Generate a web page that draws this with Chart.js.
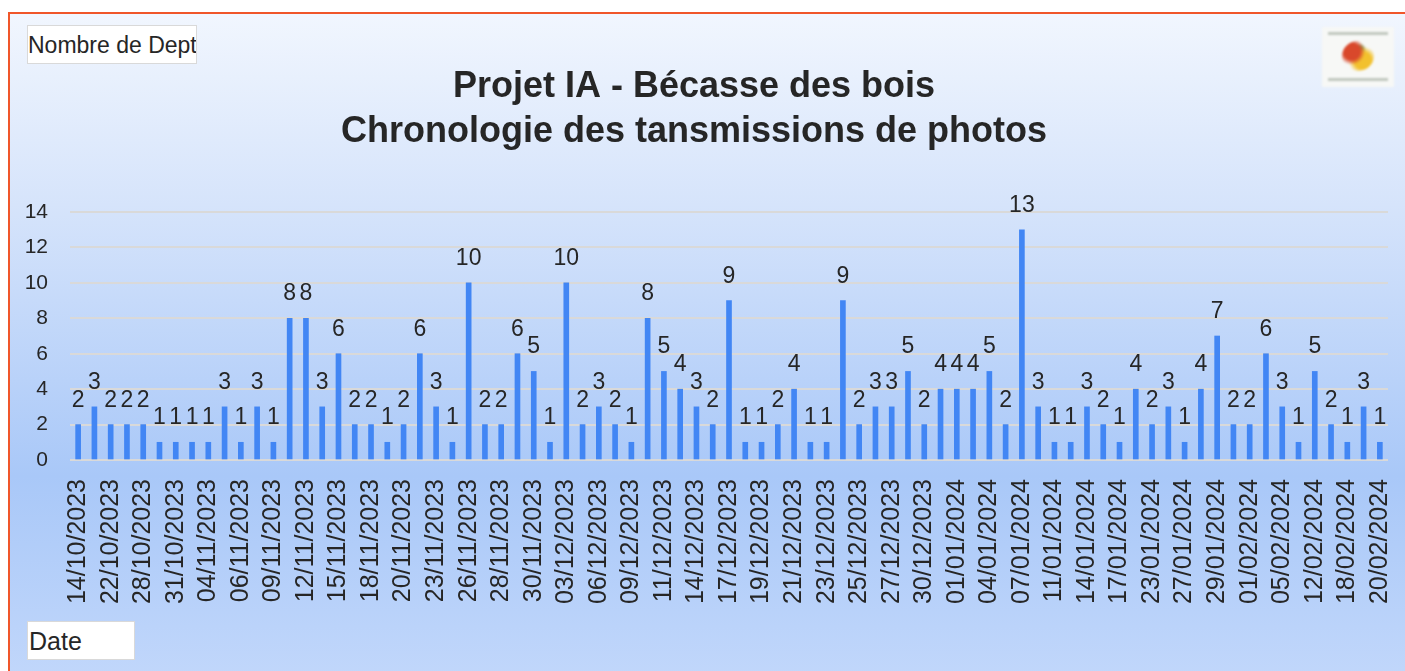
<!DOCTYPE html>
<html lang="fr">
<head>
    <meta charset="UTF-8">
    <title>Projet IA - Bécasse des bois</title>
    <script src="https://cdn.jsdelivr.net/npm/chart.js"></script>
    <style>
        html, body {
            margin: 0;
            padding: 0;
            background: #fff;
            overflow: hidden;
        }
        body {
            width: 1405px;
            height: 671px;
            position: relative;
            font-family: Arial, "Liberation Sans", sans-serif;
        }
        .frame {
            position: absolute;
            left: 8px;
            top: 12px;
            width: 1420px;
            height: 680px;
            border: 2px solid #f0562a;
            background: linear-gradient(to bottom, #f1f6fe 0%, #d6e4fb 28%, #a9c8f8 68%, #c3d8fb 100%);
        }
        #chartBox {
            position: absolute;
            left: 0;
            top: 0;
        }
        .tag {
            position: absolute;
            background: #fff;
            border: 1px solid #d9d9d9;
            color: #262626;
            line-height: 1;
            white-space: nowrap;
            overflow: hidden;
            box-sizing: border-box;
        }
        #yTag {
            left: 27px;
            top: 25px;
            width: 170px;
            height: 39px;
            font-size: 23px;
            padding: 8px 0 0 0;
        }
        #xTag {
            left: 27px;
            top: 621px;
            width: 108px;
            height: 39px;
            font-size: 25px;
            padding: 7px 0 0 1px;
        }
        .logo {
            position: absolute;
            left: 1322px;
            top: 27px;
            width: 72px;
            height: 60px;
            background: #f7f8f6;
            filter: blur(1px);
        }
        .logo .txt {
            position: absolute;
            left: 6px;
            right: 6px;
            height: 3px;
            background: #a9b3a8;
            opacity: 0.7;
        }
        .logo .fruit {
            position: absolute;
            left: 20px;
            top: 14px;
            width: 32px;
            height: 30px;
            border-radius: 50%;
            background: radial-gradient(circle at 30% 35%, #d9482b 0 28%, transparent 45%),
                        radial-gradient(circle at 65% 65%, #f2c12e 0 30%, transparent 50%),
                        radial-gradient(circle at 55% 30%, #6b8a3a 0 12%, transparent 25%);
        }
    </style>
</head>
<body>
    <div class="frame"></div>
    <canvas id="chartBox" width="1405" height="671"></canvas>
    <div class="tag" id="yTag">Nombre de Dept</div>
    <div class="tag" id="xTag">Date</div>
    <div class="logo">
        <div class="txt" style="top:5px"></div>
        <div class="fruit"></div>
        <div class="txt" style="top:51px"></div>
    </div>

    <script>
        // dates de transmission (une étiquette sur deux est affichée)
        const dates = [
            "14/10/2023", "18/10/2023", "22/10/2023", "25/10/2023", "28/10/2023", "30/10/2023",
            "31/10/2023", "02/11/2023", "04/11/2023", "05/11/2023", "06/11/2023", "08/11/2023",
            "09/11/2023", "11/11/2023", "12/11/2023", "13/11/2023", "15/11/2023", "17/11/2023",
            "18/11/2023", "19/11/2023", "20/11/2023", "22/11/2023", "23/11/2023", "25/11/2023",
            "26/11/2023", "27/11/2023", "28/11/2023", "29/11/2023", "30/11/2023", "01/12/2023",
            "03/12/2023", "05/12/2023", "06/12/2023", "08/12/2023", "09/12/2023", "10/12/2023",
            "11/12/2023", "13/12/2023", "14/12/2023", "16/12/2023", "17/12/2023", "18/12/2023",
            "19/12/2023", "20/12/2023", "21/12/2023", "22/12/2023", "23/12/2023", "24/12/2023",
            "25/12/2023", "26/12/2023", "27/12/2023", "29/12/2023", "30/12/2023", "31/12/2023",
            "01/01/2024", "02/01/2024", "04/01/2024", "06/01/2024", "07/01/2024", "09/01/2024",
            "11/01/2024", "12/01/2024", "14/01/2024", "15/01/2024", "17/01/2024", "20/01/2024",
            "23/01/2024", "25/01/2024", "27/01/2024", "28/01/2024", "29/01/2024", "30/01/2024",
            "01/02/2024", "03/02/2024", "05/02/2024", "08/02/2024", "12/02/2024", "15/02/2024",
            "18/02/2024", "19/02/2024", "20/02/2024"
        ];

        // nombre de départements par date
        const counts = [
            2, 3, 2, 2, 2, 1, 1, 1, 1, 3, 1, 3, 1, 8, 8, 3, 6, 2, 2, 1,
            2, 6, 3, 1, 10, 2, 2, 6, 5, 1, 10, 2, 3, 2, 1, 8, 5, 4, 3, 2,
            9, 1, 1, 2, 4, 1, 1, 9, 2, 3, 3, 5, 2, 4, 4, 4, 5, 2, 13, 3,
            1, 1, 3, 2, 1, 4, 2, 3, 1, 4, 7, 2, 2, 6, 3, 1, 5, 2, 1, 3, 1
        ];

        const titleLines = ["Projet IA - Bécasse des bois", "Chronologie des tansmissions de photos"];
        const yTicks = [0, 2, 4, 6, 8, 10, 12, 14];

        const textColor = "#262626";

        // écrit la valeur au-dessus de chaque barre
        const valueLabels = {
            id: "valueLabels",
            afterDatasetsDraw(chart) {
                const ctx = chart.ctx;
                const meta = chart.getDatasetMeta(0);
                ctx.save();
                ctx.font = "23px Arial, 'Liberation Sans', sans-serif";
                ctx.fillStyle = textColor;
                ctx.textAlign = "center";
                ctx.textBaseline = "alphabetic";
                meta.data.forEach((bar, i) => {
                    ctx.fillText(String(counts[i]), bar.x, bar.y - 18);
                });
                ctx.restore();
            }
        };

        const ctx = document.getElementById("chartBox").getContext("2d");
        new Chart(ctx, {
            type: "bar",
            data: {
                labels: dates,
                datasets: [{
                    label: "Nombre de Dept",
                    data: counts,
                    backgroundColor: "#4286f4",
                    barThickness: 5
                }]
            },
            options: {
                responsive: false,
                animation: false,
                layout: {
                    padding: { top: 0, right: 17, bottom: 0, left: 0 }
                },
                plugins: {
                    legend: { display: false },
                    tooltip: { enabled: false },
                    title: {
                        display: true,
                        text: titleLines,
                        color: textColor,
                        font: { family: "Arial, 'Liberation Sans', sans-serif", size: 36, weight: "bold", lineHeight: 1.25 },
                        padding: { top: 65, bottom: 57 }
                    }
                },
                scales: {
                    x: {
                        grid: { display: false },
                        border: { display: false },
                        ticks: {
                            autoSkip: false,
                            maxRotation: 90,
                            minRotation: 90,
                            padding: 11,
                            color: textColor,
                            font: { family: "Arial, 'Liberation Sans', sans-serif", size: 25 },
                            callback: function (val, i) {
                                return i % 2 === 0 ? this.getLabelForValue(val) : "";
                            }
                        },
                        afterFit: (scale) => {
                            scale.height = 211;
                            scale.paddingLeft = 0;
                            scale.paddingRight = 0;
                        }
                    },
                    y: {
                        min: 0,
                        max: 14,
                        border: { display: false },
                        grid: { color: "#d9d9d9", lineWidth: 2, drawTicks: false },
                        afterBuildTicks: (scale) => { scale.ticks = yTicks.map(v => ({ value: v })); },
                        ticks: {
                            padding: 22,
                            color: textColor,
                            font: { family: "Arial, 'Liberation Sans', sans-serif", size: 21 }
                        },
                        afterFit: (scale) => { scale.width = 70; }
                    }
                }
            },
            plugins: [valueLabels]
        });
    </script>
</body>
</html>
